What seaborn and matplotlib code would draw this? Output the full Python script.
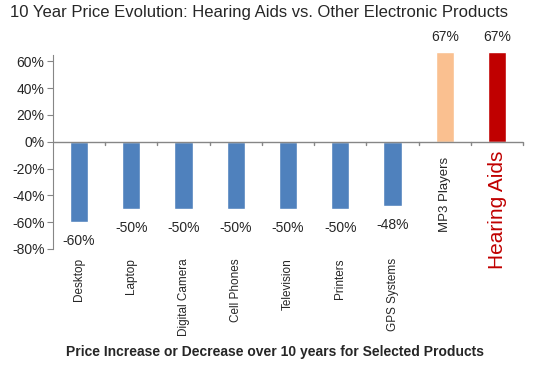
import pandas as pd
import matplotlib.pyplot as plt
import seaborn as sns

products = ["Desktop", "Laptop", "Digital Camera", "Cell Phones", "Television",
            "Printers", "GPS Systems", "MP3 Players", "Hearing Aids"]
change = [-0.60, -0.50, -0.50, -0.50, -0.50, -0.50, -0.48, 0.67, 0.67]
colors = ["#4F81BD"] * 7 + ["#FAC090", "#C00000"]

df = pd.DataFrame({"product": products, "change": change})

sns.set_style("white")
plt.rcParams["font.family"] = ["Liberation Sans", "DejaVu Sans"]

fig = plt.figure(figsize=(5.4, 3.66), dpi=100)
ax = fig.add_axes([0.098, 0.320, 0.871, 0.549])
sns.barplot(data=df, x="product", y="change", hue="product", palette=colors,
            width=0.35, legend=False, ax=ax, saturation=1)

ax.set_ylim(-0.8, 0.7)
ax.set_xlim(-0.5, len(products) - 0.5)
ax.set_yticks([-0.8, -0.6, -0.4, -0.2, 0, 0.2, 0.4, 0.6])
ax.set_yticklabels([f"{int(round(v * 100))}%" for v in ax.get_yticks()], fontsize=10)
ax.tick_params(axis="y", length=4, color="#868686", direction="out", pad=2, left=True)

for s in ["top", "right", "bottom"]:
    ax.spines[s].set_visible(False)
ax.spines["left"].set_color("#868686")
ax.spines["left"].set_bounds(-0.8, 0.65)
ax.axhline(0, color="#868686", lw=1)

# category ticks sit between bars, hanging from the zero line
for i in range(len(products)):
    ax.plot([i + 0.5, i + 0.5], [0, -0.025], color="#868686", lw=1, clip_on=False)

ax.set_xticks([])
ax.set_xlabel("")
ax.set_ylabel("")

# value labels
for i, v in enumerate(change):
    if v < 0:
        ax.text(i, v - 0.09, f"{int(round(v * 100))}%", ha="center", va="top", fontsize=10)
    else:
        ax.text(i, v + 0.06, f"{int(round(v * 100))}%", ha="center", va="bottom", fontsize=10)

# category labels
for i, p in enumerate(products[:7]):
    ax.text(i, -0.87, p, rotation=90, ha="center", va="top", fontsize=8.5)
ax.text(7, -0.11, products[7], rotation=90, ha="center", va="top", fontsize=9.5)
ax.text(8, -0.07, products[8], rotation=90, ha="center", va="top", fontsize=15,
        color="#C00000")

fig.text(0.48, 0.985, "10 Year Price Evolution: Hearing Aids vs. Other Electronic Products",
         ha="center", va="top", fontsize=12)
fig.text(0.51, 0.02, "Price Increase or Decrease over 10 years for Selected Products",
         ha="center", va="bottom", fontsize=10, fontweight="bold")

fig.savefig("out.png", dpi=100)
